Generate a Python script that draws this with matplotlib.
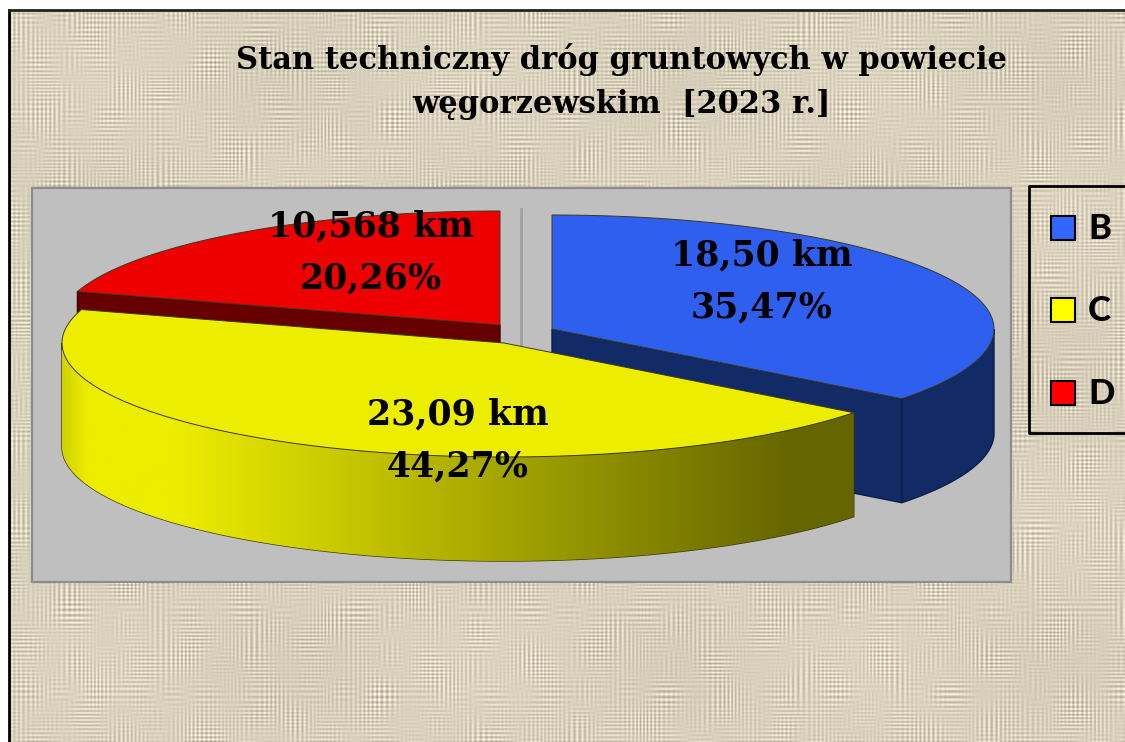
import matplotlib
matplotlib.use("Agg")
import matplotlib.pyplot as plt
from matplotlib.colors import LinearSegmentedColormap
from matplotlib.patches import Polygon, Rectangle
import numpy as np

# data
categories = ["B", "C", "D"]
km_labels = ["18,50 km", "23,09 km", "10,568 km"]
percents = [35.47, 44.27, 20.26]

title_lines = ["Stan techniczny dróg gruntowych w powiecie", "węgorzewskim  [2023 r.]"]

top_colors = ["#2f5fee", "#eded00", "#ee0000"]
side_colors = ["#122a66", "#666600", "#660000"]
legend_colors = ["#3366ff", "#ffff00", "#ff0000"]

# exploded slice centres in pixels
centers = [(552, 329), (504, 343), (500, 325)]
label_pos = [(762, 256), (458, 415), (371, 227)]
rx, ry, depth = 442, 114, 104

W, H = 1125, 742
fig = plt.figure(figsize=(W / 100, H / 100), dpi=100)
ax = fig.add_axes([0, 0, 1, 1])


# cloth background, woven threads from plain sines
xx, yy = np.meshgrid(np.arange(W, dtype=float), np.arange(H, dtype=float))
warp = np.sin(2 * np.pi * xx / 4.3 + 2.5 * np.sin(xx / 17.0) + 1.5 * np.sin(xx / 7.3))
weft = np.sin(2 * np.pi * yy / 4.1 + 2.5 * np.sin(yy / 13.0) + 1.5 * np.sin(yy / 6.7))
mod1 = np.sin(xx / 23.0 + yy / 41.0) * np.sin(yy / 19.0 - xx / 37.0) + 0.5 * np.sin(xx / 9.1) * np.sin(yy / 11.3) + 0.5
mod2 = np.sin(xx / 31.0 - yy / 27.0) * np.sin(xx / 13.0 + yy / 53.0) + 0.5 * np.sin(yy / 8.3) * np.sin(xx / 14.7) + 0.5
cloth = 16 * warp * mod1 + 16 * weft * mod2 + 3 * np.sin(xx / 61.0) * np.sin(yy / 47.0)
base = np.array([218, 209, 188], dtype=float)
rgb = np.clip(base[None, None, :] + cloth[:, :, None], 0, 255).astype(np.uint8)
ax.imshow(rgb[10:, 9:], extent=(9, W, H, 10), aspect="auto", interpolation="bilinear", zorder=0)

ax.plot([9, 9], [H, 10], color="black", lw=2, zorder=1)
ax.plot([9, W], [10, 10], color="#222222", lw=2, zorder=1)

# plot area
ax.add_patch(Rectangle((32, 188), 979, 394, facecolor="#bfbfbf", edgecolor="#8c8c8c", lw=1.6, zorder=2))
ax.plot([521, 521], [209, 350], color="#a0a0a0", lw=2, zorder=2)


def arc(center, a0, a1, drop=0):
    t = np.radians(np.linspace(a0, a1, 200))
    return np.column_stack([center[0] + rx * np.cos(t), center[1] - ry * np.sin(t) + drop])


# slice angles, clockwise from the top
ends = 90 - np.cumsum(percents) * 3.6
starts = np.r_[90, ends[:-1]]

yellow_cmap = LinearSegmentedColormap.from_list(
    "yel", [(0, "#d4d400"), (0.03, "#eded00"), (0.14, "#eded00"), (0.92, "#666600"), (1, "#666600")])

# draw order: blue, red, yellow (front one last)
for i, z in [(0, 3), (2, 4), (1, 5)]:
    c = np.array(centers[i])
    a0, a1 = starts[i], ends[i]

    # cut face
    if i == 0:
        end_pt = arc(c, a1, a1)[0]
        face = [c, end_pt, end_pt + [0, depth], c + [0, depth]]
        ax.add_patch(Polygon(face, facecolor=side_colors[i], edgecolor="#0c1d4a", lw=1, zorder=z))
    if i == 2:
        start_pt = arc(c, a0, a0)[0]
        face = [c, start_pt, start_pt + [0, depth], c + [0, depth]]
        ax.add_patch(Polygon(face, facecolor=side_colors[i], edgecolor="#3c0000", lw=1, zorder=z))

    # outer wall, only the part facing us
    lo, hi = max(a1, -180), min(a0, 0)
    if hi > lo:
        wall = np.vstack([arc(c, hi, lo), arc(c, lo, hi, depth)])
        if i == 1:
            poly = Polygon(wall, facecolor="none", edgecolor="#3a3a00", lw=1, zorder=z)
            ax.add_patch(poly)
            grad = np.linspace(0, 1, 400).reshape(1, -1)
            im = ax.imshow(grad, extent=(wall[:, 0].min(), wall[:, 0].max(), 600, 300),
                           cmap=yellow_cmap, aspect="auto", zorder=z)
            im.set_clip_path(poly)
        else:
            ax.add_patch(Polygon(wall, facecolor=side_colors[i], edgecolor="#0c1d4a", lw=1, zorder=z))

    # top
    top = np.vstack([c, arc(c, a0, a1)])
    ax.add_patch(Polygon(top, facecolor=top_colors[i], edgecolor="#3a3a20", lw=0.7, zorder=z + 0.5))

for i in range(3):
    x, y = label_pos[i]
    pct = f"{percents[i]:.2f}%".replace(".", ",")
    ax.text(x, y, km_labels[i], ha="center", va="center", fontsize=25, fontweight="bold",
            family="DejaVu Serif", color="black", zorder=8)
    ax.text(x, y + 52, pct, ha="center", va="center", fontsize=25, fontweight="bold",
            family="DejaVu Serif", color="black", zorder=8)

ax.text(622, 60, title_lines[0], ha="center", va="center", fontsize=22, fontweight="bold",
        family="DejaVu Serif", color="black", zorder=8)
ax.text(622, 105, title_lines[1], ha="center", va="center", fontsize=22, fontweight="bold",
        family="DejaVu Serif", color="black", zorder=8)

# legend
ax.plot([W, 1029, 1029, W], [186, 186, 433, 433], color="black", lw=2, zorder=6)
for name, col, y in zip(categories, legend_colors, [228, 310, 393]):
    ax.add_patch(Rectangle((1051, y - 12), 24, 24, facecolor=col, edgecolor="black", lw=1.5, zorder=7))
    ax.text(1088, y + 1, name, ha="left", va="center", fontsize=25, fontweight="black",
            family="Lato", color="black", zorder=8)

ax.set_xlim(0, W)
ax.set_ylim(H, 0)
ax.axis("off")
fig.savefig("out.png", dpi=100, facecolor="white")
